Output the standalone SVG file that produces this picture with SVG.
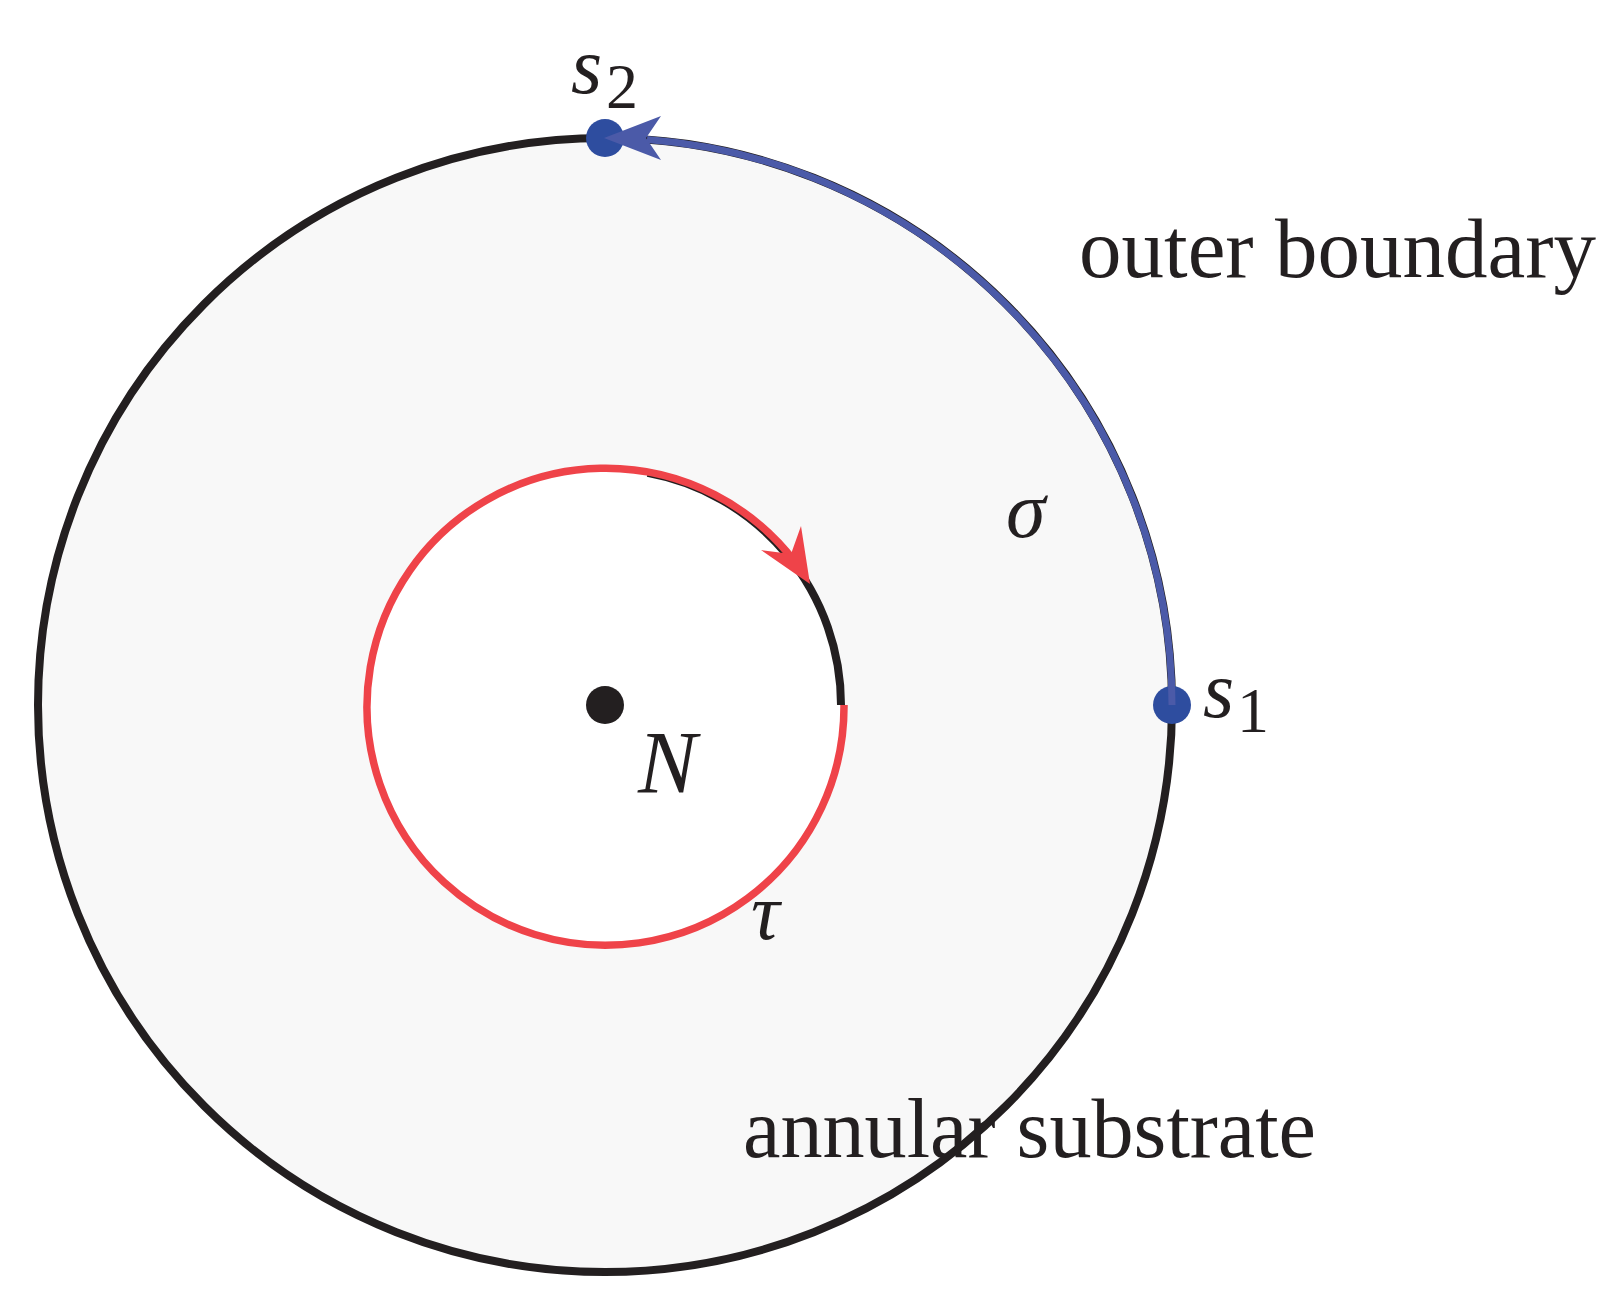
<svg xmlns="http://www.w3.org/2000/svg" width="1619" height="1306" viewBox="0 0 1619 1306">
<style>
.lbl{font-family:"Liberation Serif","Times New Roman",serif;fill:#231f20}
.it{font-style:italic}
.word{font-size:84px}
.sym{font-size:80px}
.sub{font-size:64px}
</style>
<rect x="0" y="0" width="1619" height="1306" fill="#ffffff"/>
<g id="outer-boundary">
<circle cx="605" cy="705" r="567" fill="#f8f8f8" stroke="#231f20" stroke-width="8"/>
</g>
<g id="inner-circle">
<circle cx="605" cy="705" r="237" fill="#ffffff"/>
<path d="M647.6,472.9 A236,236 0 0 1 841,705" fill="none" stroke="#231f20" stroke-width="8"/>
</g>
<g id="N">
<circle cx="605" cy="705" r="19" fill="#231f20"/>
<text class="lbl it" x="638" y="792" font-size="88">N</text>
</g>
<g id="s1">
<circle cx="1172" cy="705" r="19" fill="#2e4d9f"/>
<text class="lbl it sym" x="1203" y="717">s</text>
<text class="lbl sub" x="1237" y="732">1</text>
</g>
<g id="s2">
<circle cx="605" cy="138" r="19" fill="#2e4d9f"/>
<text class="lbl it sym" x="571" y="93">s</text>
<text class="lbl sub" x="606" y="108">2</text>
</g>
<g id="connectors">
<path d="M844,705 A238.5,238.5 0 1 1 794.9,561.8" fill="none" stroke="#ef4349" stroke-width="7.5"/>
<path d="M810,584 L801,526 L791,554 L761,550 Z" fill="#ef4349"/>
<path d="M1172,705 A568,568 0 0 0 647,139.5" fill="none" stroke="#4b5aa8" stroke-width="7"/>
<path d="M604,138 L661,116 L646,138 L661,160 Z" fill="#4b5aa8"/>
</g>
<g id="labels">
<text class="lbl word" x="1079" y="277" textLength="517" lengthAdjust="spacingAndGlyphs">outer boundary</text>
<text class="lbl word" x="743" y="1157" textLength="573" lengthAdjust="spacingAndGlyphs">annular substrate</text>
<text class="lbl it sym" x="1006" y="537">σ</text>
<text class="lbl it sym" x="751" y="939">τ</text>
</g>
</svg>
